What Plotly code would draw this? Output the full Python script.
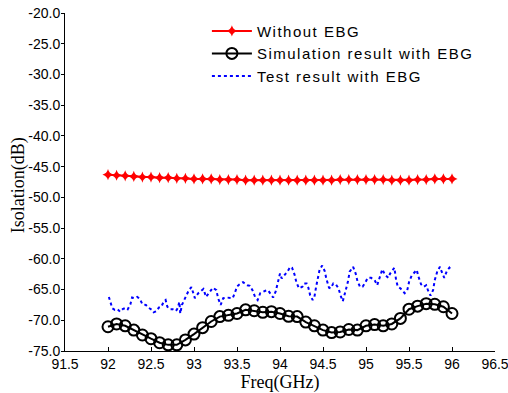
import plotly.graph_objects as go

freq = [round(92 + 0.1 * i, 1) for i in range(41)]

without_ebg = [-46.3, -46.4, -46.5, -46.6, -46.7, -46.7, -46.8, -46.8, -46.9, -46.9,
               -47.0, -47.0, -47.0, -47.1, -47.1, -47.1, -47.2, -47.2, -47.2, -47.2,
               -47.2, -47.2, -47.2, -47.2, -47.2, -47.2, -47.2, -47.1, -47.1, -47.1,
               -47.1, -47.1, -47.1, -47.2, -47.2, -47.2, -47.1, -47.1, -47.0, -47.0, -47.0]

sim_ebg = [-71.05, -70.6, -70.9, -71.6, -72.4, -73.0, -73.65, -74.0, -74.0, -73.2,
           -72.25, -71.2, -70.2, -69.4, -69.2, -68.9, -68.3, -68.45, -68.7, -68.6,
           -68.9, -69.35, -69.4, -70.3, -70.9, -71.6, -72.0, -71.9, -71.5, -71.6,
           -70.9, -70.7, -70.9, -70.6, -69.7, -68.2, -67.7, -67.3, -67.4, -67.8, -68.9]

test_freq = [92.01, 92.03, 92.05, 92.08, 92.11, 92.14, 92.17, 92.21, 92.23, 92.26,
             92.28, 92.31, 92.34, 92.37, 92.40, 92.44, 92.47, 92.51, 92.53, 92.57,
             92.59, 92.62, 92.65, 92.67, 92.69, 92.72, 92.75, 92.79, 92.81, 92.83,
             92.84, 92.86, 92.90, 92.94, 92.97, 93.01, 93.05, 93.08, 93.11, 93.14,
             93.17, 93.19, 93.22, 93.26, 93.28, 93.31, 93.34, 93.38, 93.42, 93.45,
             93.48, 93.50, 93.53, 93.57, 93.59, 93.62, 93.65, 93.68, 93.71, 93.74,
             93.77, 93.80, 93.83, 93.86, 93.89, 93.92, 93.95, 93.98, 94.00, 94.02,
             94.05, 94.09, 94.12, 94.14, 94.17, 94.19, 94.22, 94.26, 94.28, 94.31,
             94.33, 94.35, 94.38, 94.40, 94.42, 94.44, 94.46, 94.49, 94.52, 94.54,
             94.57, 94.59, 94.62, 94.65, 94.68, 94.71, 94.73, 94.76, 94.79, 94.81,
             94.85, 94.88, 94.90, 94.93, 94.96, 94.99, 95.02, 95.06, 95.10, 95.13,
             95.15, 95.18, 95.19, 95.22, 95.26, 95.28, 95.31, 95.33, 95.35, 95.37,
             95.40, 95.43, 95.45, 95.48, 95.50, 95.53, 95.56, 95.59, 95.61, 95.64,
             95.67, 95.70, 95.72, 95.75, 95.78, 95.80, 95.83, 95.86, 95.88, 95.91,
             95.94, 95.97, 95.99]

test_ebg = [-66.2, -67.25, -68.05, -68.3, -68.2, -68.6, -68.2, -67.95, -68.2, -67.4,
            -66.3, -66.4, -66.2, -66.5, -67.4, -67.5, -67.95, -68.3, -68.7, -68.5,
            -67.95, -67.8, -66.9, -66.7, -67.8, -68.2, -68.2, -68.5, -68.05, -67.0,
            -68.9, -67.5, -66.3, -65.1, -64.6, -66.4, -65.6, -65.2, -64.9, -66.2,
            -65.6, -65.1, -64.7, -65.1, -66.4, -67.5, -66.4, -66.3, -66.3, -66.4,
            -65.35, -64.5, -64.15, -63.8, -64.0, -64.3, -64.4, -65.1, -66.2, -66.7,
            -65.6, -65.35, -65.2, -65.1, -65.8, -66.3, -65.3, -63.6, -62.4, -63.2,
            -62.75, -62.0, -61.3, -61.45, -62.6, -63.8, -64.8, -64.55, -64.0, -64.0,
            -64.7, -65.9, -66.7, -66.2, -64.55, -62.9, -61.8, -61.1, -62.0, -63.3,
            -64.7, -64.8, -64.0, -64.15, -64.8, -66.2, -66.9, -65.35, -63.7, -62.1,
            -61.3, -62.4, -63.6, -64.55, -64.55, -63.9, -63.1, -63.1, -63.45, -64.3,
            -63.45, -62.4, -61.7, -62.6, -63.1, -62.4, -61.8, -61.45, -63.45, -64.55,
            -64.8, -65.2, -65.6, -65.1, -63.8, -62.75, -62.2, -61.8, -62.9, -64.15,
            -64.55, -64.3, -65.1, -66.0, -65.1, -63.45, -62.0, -61.3, -62.1, -63.1,
            -62.0, -61.45, -61.8]

series_names = ["Without EBG", "Simulation result with EBG", "Test result with EBG"]

x_ticks = [91.5, 92, 92.5, 93, 93.5, 94, 94.5, 95, 95.5, 96, 96.5]
y_ticks = [-75, -70, -65, -60, -55, -50, -45, -40, -35, -30, -25, -20]


def spaced(name):
    return f'<span style="letter-spacing:1.5px">{name}</span>'


fig = go.Figure()
fig.add_trace(go.Scatter(
    x=freq, y=without_ebg, mode="lines+markers", name=spaced(series_names[0]),
    line=dict(color="#ff0000", width=2),
    marker=dict(symbol="star-diamond", size=8, color="#ff0000"),
))
fig.add_trace(go.Scatter(
    x=freq, y=sim_ebg, mode="lines+markers", name=spaced(series_names[1]),
    line=dict(color="#000000", width=2),
    marker=dict(symbol="circle-open", size=11, color="#000000", line=dict(width=2)),
))
fig.add_trace(go.Scatter(
    x=test_freq, y=test_ebg, mode="lines", name=spaced(series_names[2]),
    line=dict(color="#0000ff", width=2, dash="dot"),
))

fig.update_layout(
    width=508, height=393,
    margin=dict(l=65, r=13, t=13, b=42, autoexpand=False),
    plot_bgcolor="white", paper_bgcolor="white",
    showlegend=True,
    legend=dict(
        x=0.33, y=0.995, xanchor="left", yanchor="top",
        bgcolor="rgba(0,0,0,0)",
        font=dict(family="Liberation Sans, Arial", size=15, color="black"),
        tracegroupgap=0, itemwidth=40,
    ),
    font=dict(family="Liberation Sans, Arial", size=14, color="black"),
    annotations=[dict(
        text="Isolation(dB)", textangle=-90, showarrow=False,
        xref="paper", yref="paper", x=-0.109, y=0.491,
        xanchor="center", yanchor="middle",
        font=dict(family="Liberation Serif, Times New Roman", size=18, color="black"),
    )],
)
fig.update_xaxes(
    range=[91.5, 96.5], tickvals=x_ticks, ticktext=[f"{v:g}" for v in x_ticks],
    ticks="inside", ticklen=4, tickcolor="black", automargin=False,
    ticklabeloverflow="allow",
    showline=True, linecolor="black", linewidth=1, showgrid=False, zeroline=False,
    title=dict(text="Freq(GHz)", font=dict(family="Liberation Serif, Times New Roman", size=18)),
    tickfont=dict(size=14),
)
fig.update_yaxes(
    range=[-75, -20], tickvals=y_ticks, ticktext=[f"{v:.1f}" for v in y_ticks],
    ticks="outside", ticklen=3, tickcolor="black", automargin=False,
    ticklabeloverflow="allow", ticklabelstandoff=-2,
    showline=True, linecolor="black", linewidth=1, showgrid=False, zeroline=False,
    tickfont=dict(size=14),
)

fig.write_html("out.html")
